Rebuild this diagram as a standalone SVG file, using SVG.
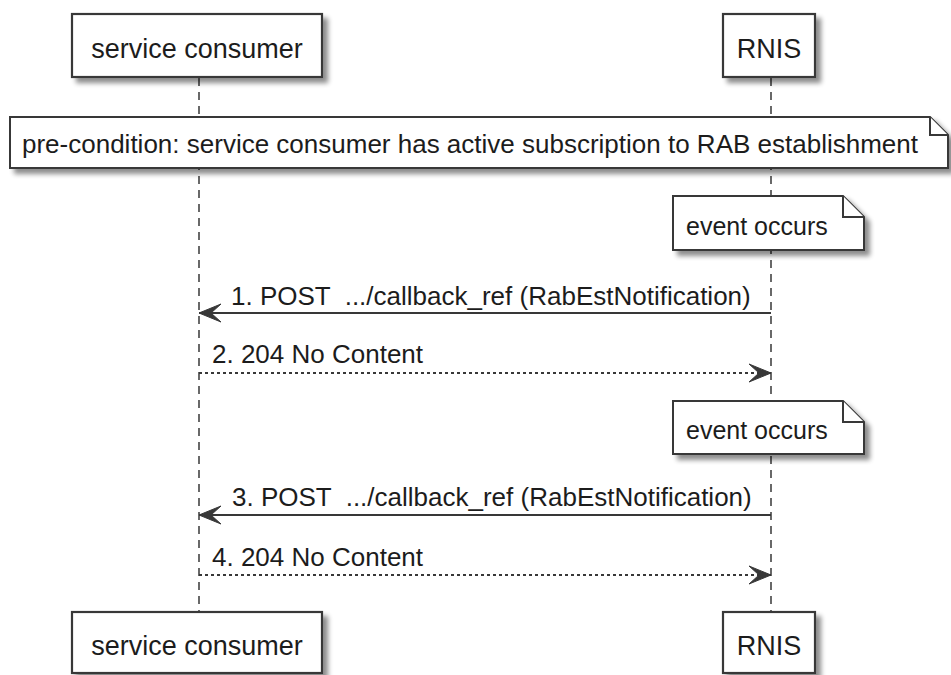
<svg xmlns="http://www.w3.org/2000/svg" width="951" height="675" viewBox="0 0 951 675">
<defs>
<filter id="sh" x="-10%" y="-20%" width="130%" height="160%">
<feGaussianBlur in="SourceAlpha" stdDeviation="2.5"/>
<feOffset dx="5" dy="5" result="b"/>
<feComponentTransfer><feFuncA type="linear" slope="0.45"/></feComponentTransfer>
<feMerge><feMergeNode/><feMergeNode in="SourceGraphic"/></feMerge>
</filter>
<marker id="ah" markerWidth="24" markerHeight="20" refX="23" refY="10" orient="auto" markerUnits="userSpaceOnUse" viewBox="0 0 24 20">
<polygon points="23,10 1,1 11,10 1,19" fill="#383838" stroke="#383838" stroke-width="1"/>
</marker>
</defs>
<style>
.box{fill:#fff;stroke:#383838;stroke-width:2.2}
.note{fill:#fff;stroke:#383838;stroke-width:2}
.life{stroke:#444;stroke-width:1.6;stroke-dasharray:8,6;fill:none}
.msg{stroke:#383838;stroke-width:2;fill:none}
.dot{stroke:#383838;stroke-width:2;stroke-dasharray:3,3;fill:none}
text{font-family:"Liberation Sans",Arial,sans-serif;fill:#1c1c1c;white-space:pre}
.p{font-size:27px}
.t{font-size:26px}
</style>
<rect width="951" height="675" fill="#fff"/>
<g id="lifelines">
<line class="life" x1="199" y1="78" x2="199" y2="611"/>
<line class="life" x1="771" y1="78" x2="771" y2="611"/>
</g>
<g id="consumer-top">
<rect class="box" x="72" y="14" width="250" height="63" filter="url(#sh)"/>
<text class="p" x="197" y="58" text-anchor="middle">service consumer</text>
</g>
<g id="rnis-top">
<rect class="box" x="723" y="14" width="92" height="63" filter="url(#sh)"/>
<text class="p" x="769" y="58" text-anchor="middle">RNIS</text>
</g>
<g id="consumer-bottom">
<rect class="box" x="72" y="612" width="250" height="61" filter="url(#sh)"/>
<text class="p" x="197" y="655" text-anchor="middle">service consumer</text>
</g>
<g id="rnis-bottom">
<rect class="box" x="723" y="612" width="92" height="61" filter="url(#sh)"/>
<text class="p" x="769" y="655" text-anchor="middle">RNIS</text>
</g>
<g id="note-precondition">
<path class="note" d="M10,117 H930 L948,135 V168 H10 Z" filter="url(#sh)"/>
<path class="note" d="M930,117 V135 H948"/>
<text class="t" x="22" y="153">pre-condition: service consumer has active subscription to RAB establishment</text>
</g>
<g id="note-event1">
<path class="note" d="M673,196 H843 L864,217 V250 H673 Z" filter="url(#sh)"/>
<path class="note" d="M843,196 V217 H864"/>
<text class="t" x="686" y="235" style="font-size:25px">event occurs</text>
</g>
<g id="note-event2">
<path class="note" d="M673,401 H843 L864,422 V454 H673 Z" filter="url(#sh)"/>
<path class="note" d="M843,401 V422 H864"/>
<text class="t" x="686" y="439" style="font-size:25px">event occurs</text>
</g>
<g id="connectors">
<line class="msg" x1="771" y1="313" x2="199" y2="313" marker-end="url(#ah)"/>
<line class="dot" x1="199" y1="373" x2="771" y2="373" marker-end="url(#ah)"/>
<line class="msg" x1="771" y1="515" x2="199" y2="515" marker-end="url(#ah)"/>
<line class="dot" x1="199" y1="575" x2="771" y2="575" marker-end="url(#ah)"/>
</g>
<g id="labels">
<text class="t" x="231" y="305" xml:space="preserve">1. POST  .../callback_ref (RabEstNotification)</text>
<text class="t" x="212" y="363">2. 204 No Content</text>
<text class="t" x="232" y="506" xml:space="preserve">3. POST  .../callback_ref (RabEstNotification)</text>
<text class="t" x="212" y="566">4. 204 No Content</text>
</g>
</svg>
